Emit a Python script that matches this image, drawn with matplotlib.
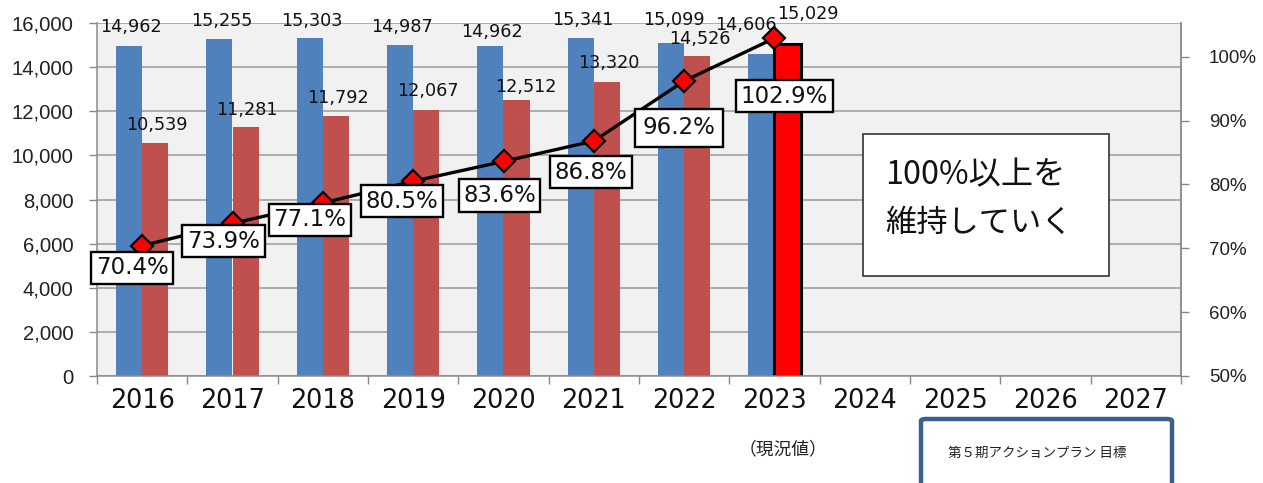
import matplotlib
matplotlib.use("Agg")
import matplotlib.pyplot as plt
from matplotlib.patches import Rectangle, FancyBboxPatch
from matplotlib.ticker import FuncFormatter, FixedLocator
import numpy as np

# ---------------- data ----------------
years = ['2016', '2017', '2018', '2019', '2020', '2021', '2022', '2023',
         '2024', '2025', '2026', '2027']
blue_values = [14962, 15255, 15303, 14987, 14962, 15341, 15099, 14606]
red_values = [10539, 11281, 11792, 12067, 12512, 13320, 14526, 15029]
ratio_values = [70.4, 73.9, 77.1, 80.5, 83.6, 86.8, 96.2, 102.9]
left_ticks = [0, 2000, 4000, 6000, 8000, 10000, 12000, 14000, 16000]
right_ticks = [50, 60, 70, 80, 90, 100]
box_text_1 = '100%以上を'
box_text_2 = '維持していく'
current_note = '（現況値）'
plan_note = '第５期アクションプラン 目標'

# ---------------- style ----------------
W, H = 1263, 483
DPI = 100
BLUE = '#4F81BD'
RED = '#C0504D'
BRIGHT_RED = '#FF0000'
GRID = '#9A9A9A'
BG = '#F1F1F1'
JP = ['Noto Sans CJK JP', 'DejaVu Sans']

# label offsets in pixels (dx, dy up)
blue_lab_off = [(2, 19), (2, 18), (2, 17), (2, 18), (2, 14), (2, 18), (3, 23), (-15, 29)]
red_lab_off = [(2, 18), (1, 17), (2, 18), (2, 19), (9, 13), (2, 19), (3, 17), (20, 30)]
ratio_lab_off = [(-10, -22), (-9, -18), (-13, -17), (-11, -20), (-4, -34),
                 (-3, -31), (-5, -47), (10, -58)]
ratio_pad = [0.2, 0.2, 0.2, 0.2, 0.2, 0.2, 0.32, 0.2]

fig = plt.figure(figsize=(W / DPI, H / DPI), dpi=DPI)
fig.patch.set_facecolor('white')

L, R, T, B = 97, 1181, 23, 376
ax = fig.add_axes([L / W, 1 - B / H, (R - L) / W, (B - T) / H])
ax.set_facecolor(BG)

n = len(years)
x = np.arange(n)
bw = 0.29
off = 0.145

xb = x[:len(blue_values)] - off
xr = x[:len(red_values)] + off
ax.bar(xb, blue_values, width=bw, color=BLUE, zorder=2)
red_colors = [RED] * (len(red_values) - 1) + [BRIGHT_RED]
red_edges = ['none'] * (len(red_values) - 1) + ['black']
red_lw = [0] * (len(red_values) - 1) + [2.2]
for xi, v, c, ec, lw in zip(xr, red_values, red_colors, red_edges, red_lw):
    ax.bar(xi, v, width=bw, color=c, edgecolor=ec, linewidth=lw, zorder=2)

ax.set_xlim(-0.5, n - 0.5)
ax.set_ylim(0, 16000)
ax.yaxis.set_major_locator(FixedLocator(left_ticks))
ax.yaxis.set_major_formatter(FuncFormatter(lambda v, p: f'{int(v):,}'))
ax.yaxis.grid(True, color=GRID, linewidth=1.1)
ax.set_axisbelow(True)

# x ticks: boundaries as major (tick marks), centres as minor (labels)
ax.xaxis.set_major_locator(FixedLocator(np.arange(n + 1) - 0.5))
ax.xaxis.set_major_formatter(FuncFormatter(lambda v, p: ''))
ax.set_xticks(x, minor=True)
ax.set_xticklabels(years, minor=True, fontsize=18.4, family='DejaVu Sans',
                   color='#111111')
ax.tick_params(axis='x', which='major', length=6, width=1, color='#888888', direction='out')
ax.tick_params(axis='x', which='minor', length=0, pad=9)
ax.tick_params(axis='y', length=6, width=1, color='#888888', pad=11,
               labelsize=14.6, labelfontfamily='Liberation Sans', labelcolor='#222222')

ax.spines['top'].set_visible(False)
for s in ['left', 'bottom', 'right']:
    ax.spines[s].set_color('#8C8C8C')
    ax.spines[s].set_linewidth(1.1)

# data labels
for xi, v, (dx, dy) in zip(xb, blue_values, blue_lab_off):
    ax.annotate(f'{v:,}', xy=(xi, v), xytext=(dx, dy), textcoords='offset pixels',
                ha='center', va='center', fontsize=12.7, family='DejaVu Sans',
                color='#111111', zorder=5)
for xi, v, (dx, dy) in zip(xr, red_values, red_lab_off):
    ax.annotate(f'{v:,}', xy=(xi, v), xytext=(dx, dy), textcoords='offset pixels',
                ha='center', va='center', fontsize=12.7, family='DejaVu Sans',
                color='#111111', zorder=5)

# right axis
ax2 = ax.twinx()
ax2.set_ylim(50, 105.28)
ax2.yaxis.set_major_locator(FixedLocator(right_ticks))
ax2.yaxis.set_major_formatter(FuncFormatter(lambda v, p: f'{int(round(v))}%'))
ax2.tick_params(axis='y', length=6, width=1, color='#888888', pad=14, labelsize=13.5,
                labelfontfamily='Liberation Sans', labelcolor='#222222')
for s in ['top', 'left', 'bottom']:
    ax2.spines[s].set_visible(False)
ax2.spines['right'].set_color('#8C8C8C')
ax2.spines['right'].set_linewidth(1.1)

xl = x[:len(ratio_values)]
ax2.plot(xl, ratio_values, color='black', linewidth=2.4, zorder=3)
ax2.plot(xl, ratio_values, linestyle='none', marker='D', markersize=11,
         markerfacecolor=BRIGHT_RED, markeredgecolor='black', markeredgewidth=1.6,
         zorder=4)
for xi, v, (dx, dy), pd in zip(xl, ratio_values, ratio_lab_off, ratio_pad):
    ax2.annotate(f'{v:.1f}%', xy=(xi, v), xytext=(dx, dy), textcoords='offset pixels',
                 ha='center', va='center', fontsize=16.5, family='DejaVu Sans',
                 color='#111111', zorder=6,
                 bbox=dict(boxstyle=f'square,pad={pd}', facecolor='white',
                           edgecolor='black', linewidth=1.7))

# big text box
def fx(px):
    return px / W

def fy(py):
    return 1 - py / H

fig.patches.append(Rectangle((fx(863), fy(276)), fx(1109) - fx(863), fy(134) - fy(276),
                             transform=fig.transFigure, facecolor='white',
                             edgecolor='#333333', linewidth=1.2, zorder=10))
fig.text(fx(885), fy(175), box_text_1, fontsize=23.2, family=JP, ha='left',
         va='center', zorder=11, color='#111111')
fig.text(fx(885), fy(223), box_text_2, fontsize=22.5, family=JP, ha='left',
         va='center', zorder=11, color='#111111')

# bottom notes
fig.text(fx(783), fy(449), current_note, fontsize=12.8, family=JP, ha='center',
         va='center', color='#222222')
fig.patches.append(FancyBboxPatch((fx(921), fy(500)), fx(1172) - fx(921), fy(419) - fy(500),
                                  boxstyle='round,pad=0,rounding_size=0.004',
                                  transform=fig.transFigure, facecolor='white',
                                  edgecolor='#3B5F8E', linewidth=3.2, zorder=10,
                                  clip_on=False))
fig.text(fx(948), fy(453), plan_note, fontsize=9.7, family=JP, ha='left',
         va='center', zorder=11, color='#222222')

fig.savefig('out.png', dpi=DPI)
